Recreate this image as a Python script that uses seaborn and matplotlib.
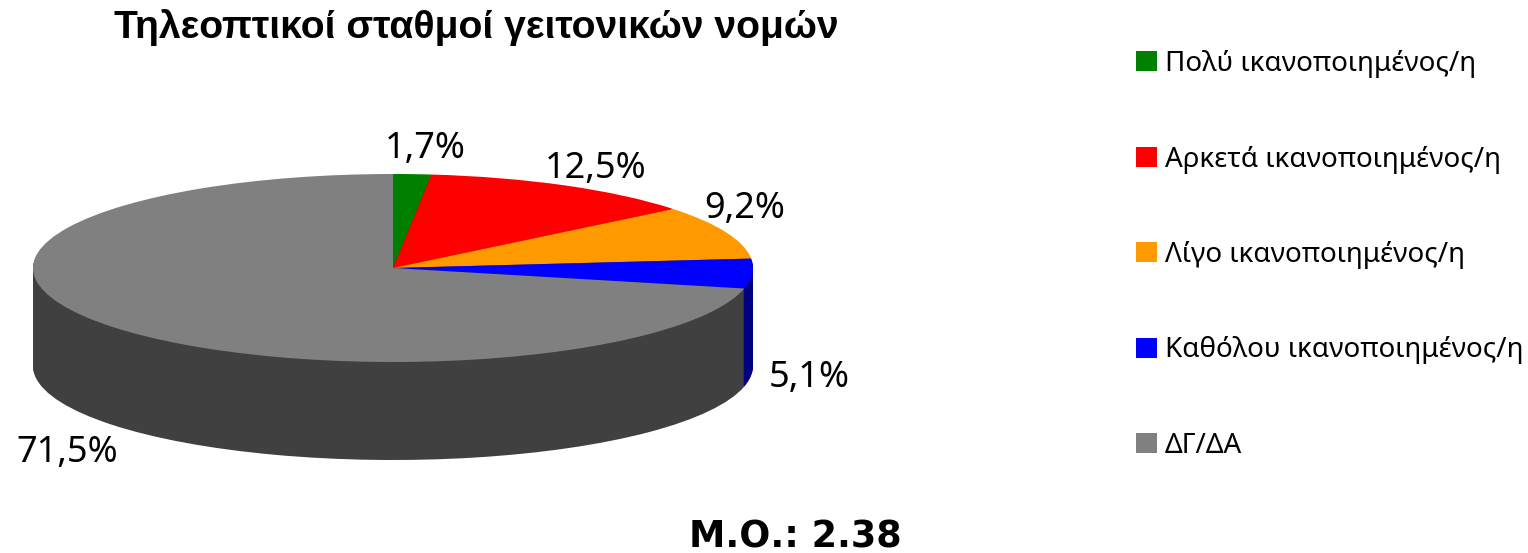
import matplotlib
matplotlib.use('Agg')
import matplotlib.pyplot as plt
import seaborn as sns

categories = ['Πολύ ικανοποιημένος/η', 'Αρκετά ικανοποιημένος/η', 'Λίγο ικανοποιημένος/η',
              'Καθόλου ικανοποιημένος/η', 'ΔΓ/ΔΑ']
values = [1.7, 12.5, 9.2, 5.1, 71.5]
value_labels = ['1,7%', '12,5%', '9,2%', '5,1%', '71,5%']
top_colors = ['#008000', '#ff0000', '#ff9900', '#0000ff', '#808080']
side_colors = ['#004000', '#800000', '#804c00', '#000080', '#404040']
title = 'Τηλεοπτικοί σταθμοί γειτονικών νομών'
note = 'Μ.Ο.: 2.38'

sns.set_theme(style='white')
plt.rcParams['font.family'] = ['Noto Sans', 'DejaVu Sans']
plt.rcParams['text.color'] = 'black'

W, H = 1528, 553
fig = plt.figure(figsize=(W / 100, H / 100), dpi=100)
ax = fig.add_axes([0, 0, 1, 1])

# fake 3d: stack the dark pie downwards, then the real one on top
depth = 98
for k in range(depth, 0, -1):
    ax.pie(values, colors=side_colors, startangle=90, counterclock=False,
           center=(0, -k / 94), radius=1, wedgeprops={'linewidth': 0})
wedges, _ = ax.pie(values, colors=top_colors, startangle=90, counterclock=False,
                   center=(0, 0), radius=1, wedgeprops={'linewidth': 0})

ax.set_aspect('auto')
ax.set_xlim(-393 / 360, (W - 393) / 360)
ax.set_ylim((268 - H) / 94, 268 / 94)
ax.axis('off')

label_pos = [(425, 149), (596, 169), (745, 209), (809, 378), (67, 453)]
for txt, (px, py) in zip(value_labels, label_pos):
    fig.text(px / W, 1 - py / H, txt, fontsize=26, ha='center', va='center')

fig.text(476 / W, 1 - 28 / H, title, fontsize=28.2, fontweight='bold', ha='center', va='center',
         family='Liberation Sans')
fig.text(795 / W, 1 - 537 / H, note, fontsize=26.3, fontweight='bold', ha='center', va='center',
         family='DejaVu Sans')

ax.legend(wedges, categories, loc='upper left', bbox_to_anchor=(1136 / W, 1 - 50 / H),
          bbox_transform=fig.transFigure, frameon=False, fontsize=20, labelcolor='black',
          handlelength=0.75, handleheight=0.75, handletextpad=0.29,
          labelspacing=2.43, borderpad=0, borderaxespad=0)

fig.savefig('out.png', dpi=100)
